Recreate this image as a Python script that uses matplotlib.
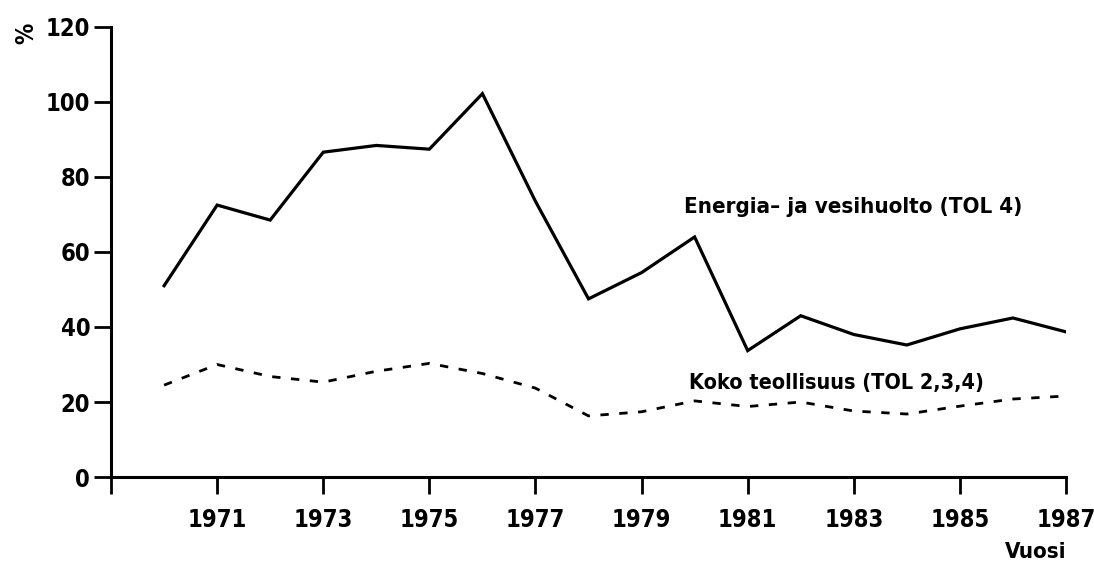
import matplotlib.pyplot as plt
from matplotlib.ticker import FixedLocator

# data
years = list(range(1970, 1988))
energia = [51, 72.5, 68.5, 86.6, 88.4, 87.4, 102.2, 73.5, 47.5, 54.5, 64,
           33.7, 43, 38, 35.2, 39.5, 42.4, 38.7]
koko = [24.5, 30, 26.8, 25.3, 28.2, 30.3, 27.6, 23.7, 16.3, 17.4, 20.3,
        18.8, 20, 17.6, 16.8, 18.9, 20.8, 21.6]
xticks = list(range(1969, 1988, 2))
xlabels = [''] + [str(y) for y in xticks[1:]]
yticks = [0, 20, 40, 60, 80, 100, 120]

plt.rcParams['font.family'] = ['DejaVu Sans']
plt.rcParams['font.stretch'] = 'condensed'
plt.rcParams['font.weight'] = 'bold'

fig = plt.figure(figsize=(10.94, 5.72), dpi=100)
ax = fig.add_axes([0.1015, 0.166, 0.8729, 0.787])

ax.plot(years, energia, color='black', lw=2.3, solid_joinstyle='miter')
ax.plot(years, koko, color='black', lw=2.0, linestyle=(0, (3.0, 3.8)))

ax.set_xlim(1969, 1987)
ax.set_ylim(0, 120)
ax.xaxis.set_major_locator(FixedLocator(xticks))
ax.set_xticklabels(xlabels)
ax.set_yticks(yticks)
ax.tick_params(axis='both', direction='out', length=12, width=2, labelsize=17, pad=3)
ax.tick_params(axis='x', pad=10)

for s in ['top', 'right']:
    ax.spines[s].set_visible(False)
for s in ['left', 'bottom']:
    ax.spines[s].set_linewidth(2.2)

ax.text(1979.8, 70.5, 'Energia\u2013 ja vesihuolto (TOL 4)', fontsize=16, ha='left', va='baseline')
ax.text(1979.9, 23.5, 'Koko teollisuus (TOL 2,3,4)', fontsize=15.5, ha='left', va='baseline')
fig.text(0.947, 0.035, 'Vuosi', fontsize=16, ha='center', va='center')
fig.text(0.024, 0.942, '%', fontsize=17, rotation=90, ha='center', va='center')

fig.savefig('out.png', dpi=100)
